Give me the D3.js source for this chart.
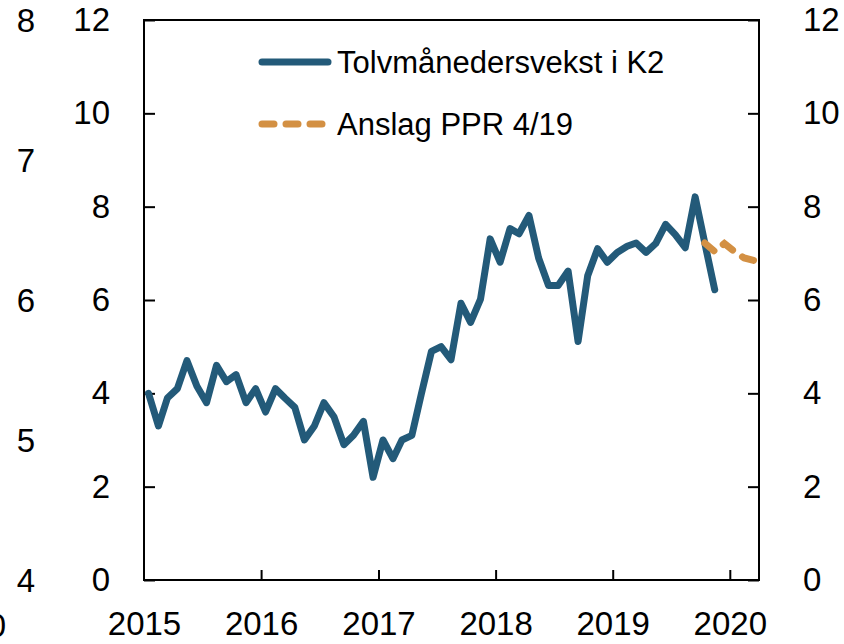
<!DOCTYPE html>
<html>
<head>
<meta charset="utf-8">
<script src="https://cdn.jsdelivr.net/npm/d3@7"></script>
<style>
  body { margin: 0; background: #fff; }
  svg { display: block; font-family: "Liberation Sans", Arial, sans-serif; }
</style>
</head>
<body>
<div id="chart"></div>
<script>
// Twelve-month growth in K2, monthly from Jan 2015
const k2Start = new Date(2015, 0, 15);
const k2Growth = [
  4.0, 3.3, 3.9, 4.1, 4.7, 4.15, 3.8, 4.6, 4.25, 4.4, 3.8, 4.1,
  3.6, 4.1, 3.9, 3.7, 3.0, 3.3, 3.8, 3.5, 2.9, 3.1, 3.4, 2.2,
  3.0, 2.6, 3.0, 3.1, 4.0, 4.9, 5.0, 4.72, 5.93, 5.52, 6.02, 7.31,
  6.81, 7.53, 7.42, 7.81, 6.9, 6.31, 6.31, 6.62, 5.11, 6.52, 7.1, 6.81,
  7.02, 7.15, 7.22, 7.02, 7.21, 7.62, 7.4, 7.12, 8.21, 7.22, 6.22
];

// Projection, PPR 4/19, from Oct 2019
const pprStart = new Date(2019, 9, 15);
const pprValues = [7.22, 7.04, 7.21, 7.04, 6.9, 6.85];

const yTicks = [0, 2, 4, 6, 8, 10, 12];
const xTickYears = [2015, 2016, 2017, 2018, 2019, 2020];
const ghostLabels = ['8', '7', '6', '5', '4'];   // leftover axis from neighbour chart
const legendLabels = ['Tolvmånedersvekst i K2', 'Anslag PPR 4/19'];

const BLUE = '#235a79';
const ORANGE = '#d39043';

const width = 844, height = 644;
const plot = { left: 144, right: 759, top: 20, bottom: 580 };

const svg = d3.select('#chart').append('svg')
  .attr('width', width)
  .attr('height', height);

const x = d3.scaleTime()
  .domain([new Date(2015, 0, 1), new Date(2020, 3, 1)])
  .range([plot.left, plot.right]);

const y = d3.scaleLinear()
  .domain([0, 12])
  .range([plot.bottom, plot.top]);

// ghost axis on far left
const ghost = d3.scaleLinear().domain([4, 8]).range([580, 20]);
svg.append('g')
  .selectAll('text')
  .data(ghostLabels)
  .join('text')
  .attr('x', 35)
  .attr('y', d => ghost(+d))
  .attr('dy', '0.35em')
  .attr('text-anchor', 'end')
  .attr('font-size', 33)
  .text(d => d);

svg.append('text')
  .attr('x', 6)
  .attr('y', 637)
  .attr('text-anchor', 'end')
  .attr('font-size', 33)
  .text('2020');

// axes
const leftAxis = d3.axisLeft(y).tickValues(yTicks).tickSize(-11).tickPadding(34);
const rightAxis = d3.axisRight(y).tickValues(yTicks).tickSize(-11).tickPadding(44);

const gl = svg.append('g')
  .attr('transform', `translate(${plot.left},0)`)
  .call(leftAxis);
const gr = svg.append('g')
  .attr('transform', `translate(${plot.right},0)`)
  .call(rightAxis);

const xAxis = d3.axisBottom(x)
  .tickValues(xTickYears.map(yr => new Date(yr, 0, 1)))
  .tickFormat(d3.timeFormat('%Y'))
  .tickSize(-10)
  .tickPadding(32);
const gx = svg.append('g')
  .attr('transform', `translate(0,${plot.bottom})`)
  .call(xAxis);

[gl, gr, gx].forEach(g => {
  g.selectAll('.domain').remove();
  g.selectAll('line').attr('stroke', '#000').attr('stroke-width', 2);
  g.selectAll('text')
    .attr('font-size', 33)
    .attr('font-family', '"Liberation Sans", Arial, sans-serif')
    .attr('fill', '#000');
});
gx.selectAll('.tick').filter(d => d.getFullYear() === 2015).select('line').remove();

// frame
svg.append('rect')
  .attr('x', plot.left)
  .attr('y', plot.top)
  .attr('width', plot.right - plot.left)
  .attr('height', plot.bottom - plot.top)
  .attr('fill', 'none')
  .attr('stroke', '#000')
  .attr('stroke-width', 2);

// lines
const line = d3.line()
  .x(d => x(d.date))
  .y(d => y(d.value));

const k2Data = k2Growth.map((v, i) => ({ date: d3.timeMonth.offset(k2Start, i), value: v }));
const pprData = pprValues.map((v, i) => ({ date: d3.timeMonth.offset(pprStart, i), value: v }));

svg.append('path')
  .datum(k2Data)
  .attr('d', line)
  .attr('fill', 'none')
  .attr('stroke', BLUE)
  .attr('stroke-width', 7)
  .attr('stroke-linejoin', 'round')
  .attr('stroke-linecap', 'round');

svg.append('path')
  .datum(pprData)
  .attr('d', line)
  .attr('fill', 'none')
  .attr('stroke', ORANGE)
  .attr('stroke-width', 7)
  .attr('stroke-dasharray', '12,12')
  .attr('stroke-linecap', 'round');

// legend
const legend = svg.append('g');
legend.append('line')
  .attr('x1', 262).attr('x2', 328)
  .attr('y1', 62).attr('y2', 62)
  .attr('stroke', BLUE).attr('stroke-width', 7)
  .attr('stroke-linecap', 'round');
legend.append('line')
  .attr('x1', 262).attr('x2', 328)
  .attr('y1', 124).attr('y2', 124)
  .attr('stroke', ORANGE).attr('stroke-width', 7)
  .attr('stroke-dasharray', '12,12')
  .attr('stroke-linecap', 'round');
legend.selectAll('text')
  .data(legendLabels)
  .join('text')
  .attr('x', 337)
  .attr('y', (d, i) => 73 + i * 62)
  .attr('font-size', 31)
  .text(d => d);
</script>
</body>
</html>
